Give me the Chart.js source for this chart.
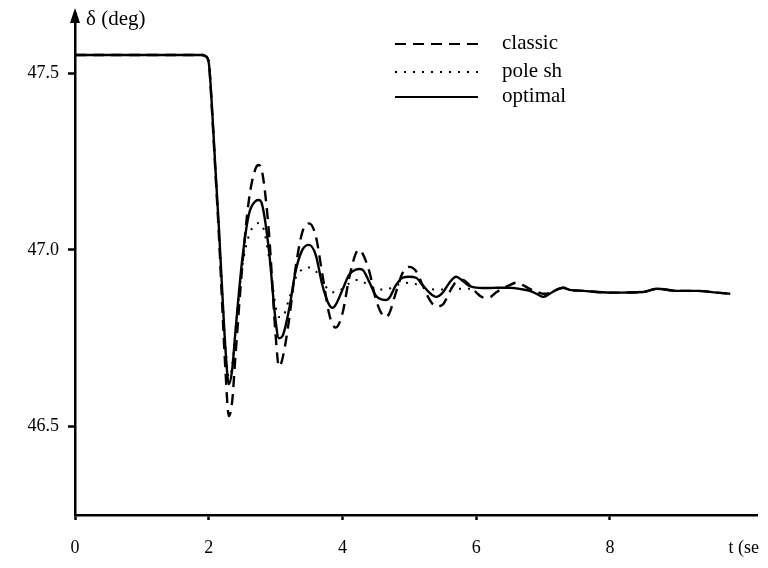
<!DOCTYPE html>
<html><head><meta charset="utf-8">
<script src="https://cdn.jsdelivr.net/npm/chart.js@4"></script>
<style>html,body{margin:0;padding:0;background:#fff}</style>
</head><body>
<canvas id="c" width="768" height="568" style="width:768px;height:568px;display:block"></canvas>
<script>
const timeS = [0, 1.9, 1.95, 2.0, 2.05, 2.1, 2.15, 2.2, 2.25, 2.3, 2.35, 2.4, 2.5, 2.6, 2.7, 2.75, 2.8, 2.9,
  3.0, 3.05, 3.1, 3.2, 3.3, 3.4, 3.5, 3.6, 3.7, 3.8, 3.85, 3.9,
  4.0, 4.1, 4.2, 4.25, 4.3, 4.4, 4.5, 4.6, 4.65, 4.7, 4.8, 4.9,
  5.0, 5.1, 5.2, 5.3, 5.4, 5.5, 5.6, 5.7, 5.8, 5.9,
  6.0, 6.1, 6.2, 6.3, 6.5, 6.6, 6.7, 6.8, 6.9,
  7.0, 7.1, 7.2, 7.3, 7.4, 7.6,
  8.0, 8.5, 8.7, 9.0, 9.3, 9.6, 9.8];

const optimal = [47.551, 47.551, 47.548, 47.53, 47.40, 47.23, 47.07, 46.89, 46.72, 46.62, 46.66, 46.77, 46.97, 47.10, 47.138, 47.141, 47.127, 47.00,
  46.80, 46.75, 46.755, 46.83, 46.94, 47.00, 47.014, 46.986, 46.90, 46.845, 46.836, 46.845,
  46.887, 46.93, 46.944, 46.946, 46.944, 46.91, 46.87, 46.859, 46.858, 46.864, 46.90, 46.921,
  46.924, 46.921, 46.90, 46.879, 46.867, 46.879, 46.907, 46.924, 46.912, 46.898,
  46.893, 46.892, 46.892, 46.893, 46.893, 46.891, 46.888, 46.884, 46.876,
  46.867, 46.876, 46.887, 46.893, 46.887, 46.884,
  46.879, 46.881, 46.89, 46.884, 46.884, 46.879, 46.876];

const classic = [47.551, 47.551, 47.548, 47.53, 47.39, 47.22, 47.05, 46.85, 46.66, 46.53, 46.57, 46.70, 46.95, 47.14, 47.23, 47.24, 47.22, 47.05,
  46.76, 46.67, 46.69, 46.80, 46.95, 47.05, 47.075, 47.04, 46.93, 46.82, 46.79, 46.78,
  46.82, 46.92, 46.99, 47.0, 46.99, 46.94, 46.86, 46.815, 46.81, 46.82, 46.88, 46.935,
  46.952, 46.94, 46.90, 46.86, 46.84, 46.845, 46.88, 46.91, 46.915, 46.90,
  46.88, 46.866, 46.866, 46.88, 46.90, 46.907, 46.90, 46.89, 46.882,
  46.876, 46.878, 46.887, 46.893, 46.887, 46.884,
  46.879, 46.881, 46.89, 46.884, 46.884, 46.879, 46.876];

const poleSh = [47.551, 47.551, 47.548, 47.53, 47.40, 47.23, 47.07, 46.89, 46.73, 46.64, 46.67, 46.77, 46.95, 47.04, 47.072, 47.076, 47.07, 46.98,
  46.84, 46.81, 46.81, 46.86, 46.92, 46.945, 46.95, 46.94, 46.91, 46.885, 46.88, 46.88,
  46.89, 46.905, 46.915, 46.915, 46.91, 46.90, 46.89, 46.888, 46.888, 46.89, 46.90, 46.905,
  46.907, 46.903, 46.895, 46.89, 46.888, 46.888, 46.89, 46.89, 46.89, 46.89,
  46.89, null, null, null, null, null, null, null, null,
  null, null, null, null, null, null,
  null, null, null, null, null, null, null];

const seriesNames = ['classic', 'pole sh', 'optimal'];
const xTicks = [0, 2, 4, 6, 8, 10];
const xTickLabels = ['0', '2', '4', '6', '8', 't (se'];
const yTicks = [46.5, 47.0, 47.5];
const yTickLabels = ['46.5', '47.0', '47.5'];
const yAxisTitle = 'δ (deg)';

const FONT = "'Liberation Serif', 'DejaVu Serif', serif";
const dashStyles = { classic: [11, 7], 'pole sh': [2, 7], optimal: [] };

function pts(vals) { return timeS.map((t, i) => ({ x: t, y: vals[i] })); }

const decorPlugin = {
  id: 'decor',
  afterDraw(chart) {
    const ctx = chart.ctx;
    const ca = chart.chartArea;
    ctx.save();
    // arrow at the top of the y axis
    ctx.fillStyle = '#000';
    ctx.beginPath();
    ctx.moveTo(ca.left, ca.top - 5);
    ctx.lineTo(ca.left - 5, ca.top + 10);
    ctx.lineTo(ca.left + 5, ca.top + 10);
    ctx.closePath();
    ctx.fill();
    // axis title
    ctx.font = '21px ' + FONT;
    ctx.textBaseline = 'middle';
    ctx.textAlign = 'left';
    ctx.fillText(yAxisTitle, ca.left + 11, ca.top + 6);
    // legend
    const lx0 = 395, lx1 = 478, tx = 502;
    const rows = [44, 72, 97];
    seriesNames.forEach((name, i) => {
      ctx.strokeStyle = '#000';
      ctx.lineWidth = 2;
      ctx.setLineDash(dashStyles[name]);
      ctx.beginPath();
      ctx.moveTo(lx0, rows[i]);
      ctx.lineTo(lx1, rows[i]);
      ctx.stroke();
      ctx.setLineDash([]);
      ctx.fillText(name, tx, rows[i] - 1);
    });
    ctx.restore();
  }
};

new Chart(document.getElementById('c'), {
  type: 'line',
  data: {
    datasets: [
      { label: seriesNames[2], data: pts(optimal), borderColor: '#000', borderWidth: 2.4, borderDash: dashStyles.optimal },
      { label: seriesNames[0], data: pts(classic), borderColor: '#000', borderWidth: 2.4, borderDash: dashStyles.classic },
      { label: seriesNames[1], data: pts(poleSh), borderColor: '#000', borderWidth: 2, borderDash: dashStyles['pole sh'] }
    ]
  },
  options: {
    responsive: false,
    animation: false,
    devicePixelRatio: 1,
    layout: { padding: { top: 13, right: 11, left: 0, bottom: 0 } },
    elements: {
      point: { radius: 0 },
      line: { cubicInterpolationMode: 'monotone', fill: false }
    },
    plugins: { legend: { display: false }, tooltip: { enabled: false } },
    scales: {
      x: {
        type: 'linear', min: 0, max: 10.2,
        afterBuildTicks: s => { s.ticks = xTicks.map(v => ({ value: v })); },
        afterFit: s => { s.height = 53; s.paddingRight = 0; s.paddingLeft = 0; },
        ticks: {
          autoSkip: false, maxRotation: 0, color: '#000', padding: 17,
          font: { family: FONT, size: 18 },
          callback: v => xTickLabels[xTicks.indexOf(v)]
        },
        grid: {
          display: true, drawOnChartArea: false, drawTicks: true, tickLength: 5, tickWidth: 2.5,
          tickColor: c => (c.tick && c.tick.value === 10) ? 'rgba(0,0,0,0)' : '#000'
        },
        border: { display: true, color: '#000', width: 2.5 }
      },
      y: {
        type: 'linear', min: 46.25, max: 47.67,
        afterBuildTicks: s => { s.ticks = yTicks.map(v => ({ value: v })); },
        afterFit: s => { s.width = 75; s.paddingTop = 0; s.paddingBottom = 0; },
        ticks: {
          color: '#000', padding: 9,
          font: { family: FONT, size: 18 },
          callback: v => yTickLabels[yTicks.indexOf(v)]
        },
        grid: { display: true, drawOnChartArea: false, drawTicks: true, tickLength: 7, tickWidth: 2.5, tickColor: '#000' },
        border: { display: true, color: '#000', width: 2.5 }
      }
    }
  },
  plugins: [decorPlugin]
});
</script>
</body></html>
